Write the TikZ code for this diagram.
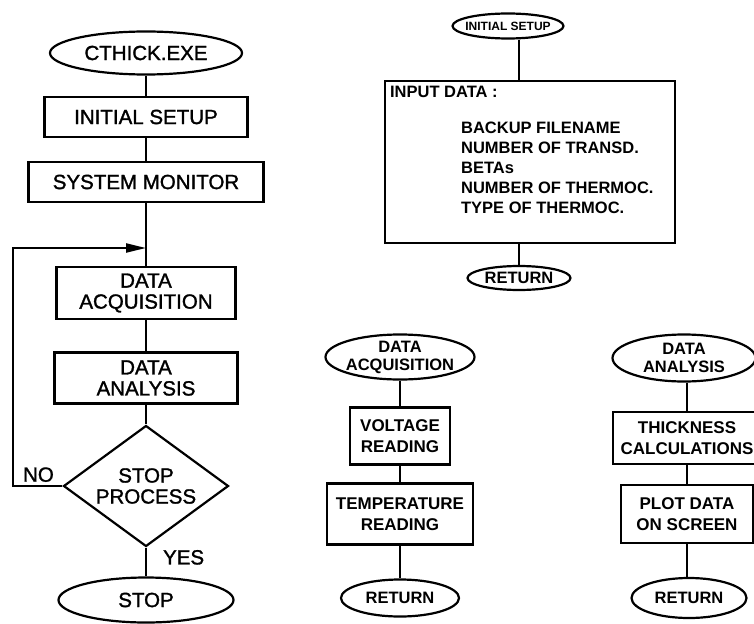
\documentclass[tikz,border=0pt]{standalone}
\usepackage{fontspec}
\setmainfont{Liberation Sans}
\newfontfamily\penfont[FakeBold=1.4]{Liberation Sans}
\usetikzlibrary{arrows.meta,shapes.geometric}
\tikzset{
  term/.style={draw,ellipse,inner sep=0pt},
  proc/.style={draw,rectangle,inner sep=0pt,align=center},
  decide/.style={draw,diamond,aspect=1.36,inner sep=0pt,align=center},
  bigtxt/.style={font=\penfont\fontsize{20.5}{21}\selectfont},
  boxtxt/.style={font=\fontsize{17}{21.5}\selectfont\bfseries},
  ovaltxt/.style={font=\fontsize{16.5}{18}\selectfont\bfseries,align=center},
  listtxt/.style={font=\fontsize{16.5}{20}\selectfont\bfseries,inner sep=0pt},
  loopback/.style={-{Triangle[length=20pt,width=9pt]}},
}
\begin{document}
\begin{tikzpicture}[x=1pt,y=-1pt,line width=2.2pt]
\clip (0,0) rectangle (754,623);
\node[term,bigtxt,minimum width=192,minimum height=43] (exe) at (146,53) {CTHICK.EXE};
\node[proc,bigtxt,minimum width=203,minimum height=40] (setup) at (146,117) {INITIAL SETUP};
\node[proc,bigtxt,minimum width=235,minimum height=40] (monitor) at (146,182) {SYSTEM MONITOR};
\node[proc,bigtxt,minimum width=179,minimum height=52] (acq) at (146,293) {DATA\\ACQUISITION};
\node[proc,bigtxt,minimum width=183,minimum height=51] (ana) at (146,378) {DATA\\ANALYSIS};
\node[decide,bigtxt,minimum width=165,minimum height=121] (stopq) at (146,486) {STOP\\PROCESS};
\node[term,bigtxt,minimum width=175,minimum height=45] (stop) at (146,600) {STOP};
\coordinate (loop) at (13,248);
\coordinate (merge) at (146,248);
\draw (exe) -- (setup);
\draw (setup) -- (monitor);
\draw (monitor) -- (acq);
\draw (acq) -- (ana);
\draw (ana) -- (stopq);
\draw (stopq) -- (stop);
\draw[loopback] (stopq.west) -| (loop) -- (merge);
\node[bigtxt,inner sep=0pt,anchor=south west] (no) at (22,483) {NO};
\node[bigtxt,inner sep=0pt,anchor=north west] (yes) at (162,549) {YES};
\node[term,minimum width=111,minimum height=25,label={[ovaltxt,font=\fontsize{12}{14}\selectfont\bfseries]center:INITIAL SETUP}] (hdsetup) at (508,26) {};
\node[proc,minimum width=290,minimum height=162] (input) at (530,162) {};
\node[listtxt,anchor=west] (inhead) at (389,92) {INPUT DATA :};
\node[listtxt,anchor=north west,align=left] (inlist) at (460,121) {BACKUP FILENAME\\NUMBER OF TRANSD.\\BETAs\\NUMBER OF THERMOC.\\TYPE OF THERMOC.};
\node[term,minimum width=103,minimum height=24,label={[ovaltxt]center:RETURN}] (ret1) at (519,278) {};
\draw (hdsetup.south -| ret1) -- (input.north -| ret1);
\draw (input.south -| ret1) -- (ret1);
\node[term,minimum width=149,minimum height=45,label={[ovaltxt]center:DATA\\ACQUISITION}] (hdacq) at (400,357) {};
\node[proc,boxtxt,minimum width=100,minimum height=57] (volt) at (400,436) {VOLTAGE\\READING};
\node[proc,boxtxt,minimum width=146,minimum height=61] (temp) at (400,514) {TEMPERATURE\\READING};
\node[term,minimum width=118,minimum height=37,label={[ovaltxt]center:RETURN}] (ret2) at (400,598) {};
\draw (hdacq) -- (volt);
\draw (volt) -- (temp);
\draw (temp) -- (ret2);
\node[term,minimum width=143,minimum height=47,label={[ovaltxt]center:DATA\\ANALYSIS}] (hdana) at (684,358) {};
\node[proc,boxtxt,minimum width=148,minimum height=52] (thick) at (687,438) {THICKNESS\\CALCULATIONS};
\node[proc,boxtxt,minimum width=132,minimum height=58] (plot) at (687,514) {PLOT DATA\\ON SCREEN};
\node[term,minimum width=115,minimum height=40,label={[ovaltxt]center:RETURN}] (ret3) at (689,598) {};
\draw (hdana.south -| thick) -- (thick);
\draw (thick) -- (plot);
\draw (plot) -- (ret3.north -| plot);
\end{tikzpicture}
\end{document}
